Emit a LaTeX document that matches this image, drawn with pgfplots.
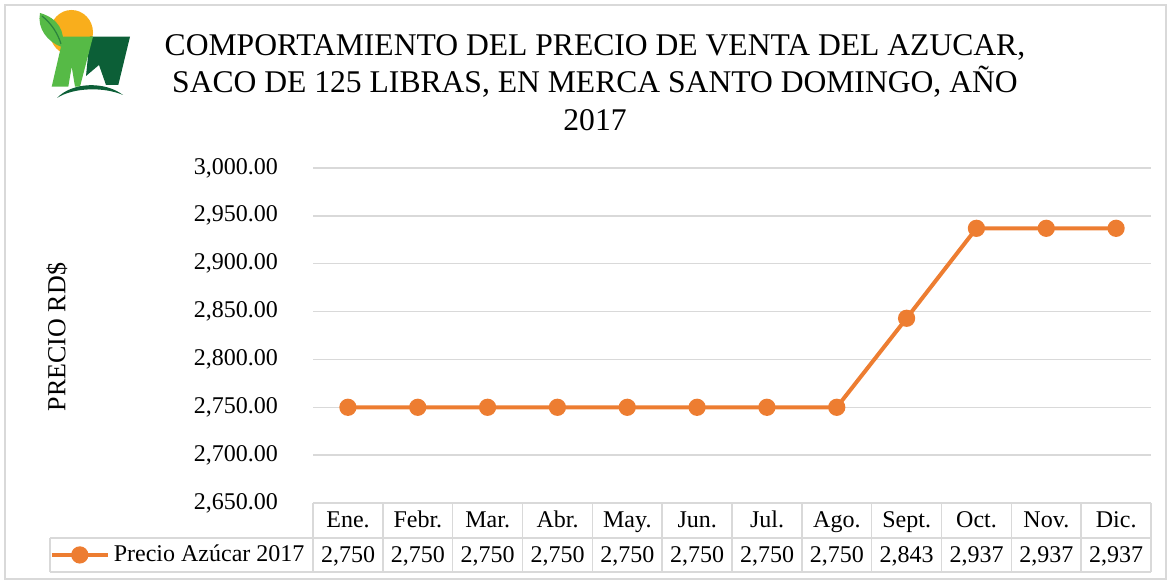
\documentclass[border=0pt]{standalone}
\usepackage{fontspec}
\setmainfont{Liberation Serif}
\usepackage{pgfplots}
\pgfplotsset{compat=1.18}
\definecolor{orangeL}{HTML}{ED7D31}
\definecolor{gridc}{HTML}{D9D9D9}
\definecolor{sunc}{HTML}{F9AE1C}
\definecolor{lgreen}{HTML}{56BA46}
\definecolor{dgreen}{HTML}{0C5F37}
\begin{document}
\begin{tikzpicture}[x=0.5pt,y=0.5pt]
\path[use as bounding box] (0,0) rectangle (1171,584);
\draw[gridc, line width=1pt] (5,5) rectangle (1166,579);
% logo
\fill[sunc] (71.5,551.5) ellipse (21.5 and 22.5);
\fill[lgreen] (40,571) .. controls (58,566) and (66,552) .. (62,537) .. controls (47,542) and (37,556) .. (40,571);
\draw[dgreen!60!lgreen, line width=0.6pt] (42,568) .. controls (52,560) and (58,550) .. (61,540);
\fill[dgreen] (90,547.3) -- (130,547.3) -- (118.3,499) -- (106,499) -- (99,519) -- (86,508) -- cycle;
\fill[lgreen] (63.3,547.3) -- (93,547.3) -- (80,497.3) -- (75,497.3) -- (71.7,517.3) -- (68.3,497.3) -- (51.7,497.3) -- cycle;
\fill[dgreen] (57,486) .. controls (72,502) and (105,503) .. (123,489) .. controls (105,497) and (74,497) .. (57,486) -- cycle;
% title
\node[align=center, font=\fontsize{15.8}{18.75}\selectfont] at (595,501.5) {COMPORTAMIENTO DEL PRECIO DE VENTA DEL AZUCAR,\\SACO DE 125 LIBRAS, EN MERCA SANTO DOMINGO, AÑO\\2017};
% y label
\node[rotate=90, font=\fontsize{13}{15}\selectfont] at (57,247) {PRECIO RD\$};
\begin{axis}[at={(156.5pt,40.5pt)}, anchor=south west, scale only axis,
  width=419pt, height=167.5pt,
  xmin=-0.5, xmax=11.5, ymin=2650, ymax=3000,
  ytick={2650,2700,2750,2800,2850,2900,2950,3000},
  xtick=\empty,
  ymajorgrids, grid style={gridc, line width=0.75pt},
  axis line style={draw=none}, major tick length=0pt,
  yticklabel style={/pgf/number format/.cd, fixed, fixed zerofill, precision=2, 1000 sep={,}, assume math mode=true, /tikz/.cd, font=\fontsize{12}{14}\selectfont, xshift=-14pt},
  clip=false,
  legend style={at={(-0.005,-0.155)}, anchor=east, draw=none, fill=none, font=\fontsize{12}{14}\selectfont, inner sep=0pt},
  legend image code/.code={\draw[mark repeat=2,mark phase=2,#1] plot coordinates {(0pt,0pt) (14pt,0pt) (28pt,0pt)};},
]
\addplot[orangeL, line width=2pt, mark=*, mark size=3.3pt, mark options={fill=orangeL, draw=orangeL}] coordinates {
(0,2750) (1,2750) (2,2750) (3,2750) (4,2750) (5,2750) (6,2750) (7,2750) (8,2843) (9,2937) (10,2937) (11,2937)};
\addlegendentry{Precio Azúcar 2017}
\end{axis}
% data table
\draw[gridc, line width=0.75pt] (313,81) -- (1151,81);
\draw[gridc, line width=0.75pt] (50,46) -- (1151,46);
\draw[gridc, line width=0.75pt] (50,12) -- (1151,12);
\draw[gridc, line width=0.75pt] (50,12) -- (50,46);
\foreach \i in {0,...,12} {
  \draw[gridc, line width=0.75pt] ({313+69.8333*\i},12) -- ({313+69.8333*\i},81);
}
\foreach \lab [count=\i from 0] in {Ene.,Febr.,Mar.,Abr.,May.,Jun.,Jul.,Ago.,Sept.,Oct.,Nov.,Dic.} {
  \node[font=\fontsize{12}{14}\selectfont, anchor=base] at ({348+69.8333*\i},57) {\lab};
}
\foreach \v [count=\i from 0] in {2{,}750,2{,}750,2{,}750,2{,}750,2{,}750,2{,}750,2{,}750,2{,}750,2{,}843,2{,}937,2{,}937,2{,}937} {
  \node[font=\fontsize{12}{14}\selectfont, anchor=base] at ({348+69.8333*\i},22) {\v};
}
\end{tikzpicture}
\end{document}
